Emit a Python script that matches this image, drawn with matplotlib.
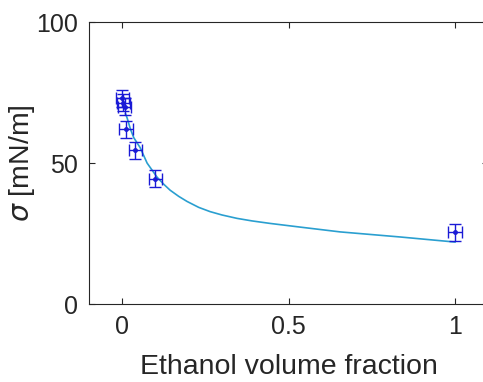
import matplotlib
matplotlib.use("Agg")
import matplotlib.pyplot as plt

# Measured surface tension of ethanol-water mixtures
frac = [0.0, 0.004, 0.008, 0.012, 0.04, 0.10, 1.0]
sigma = [73.0, 71.5, 70.0, 62.0, 54.5, 44.5, 25.5]
frac_err = [0.02, 0.02, 0.02, 0.02, 0.02, 0.02, 0.02]
sigma_err = [3.0, 3.0, 3.0, 3.0, 3.0, 3.0, 3.0]

# Fitted curve
fit_x = [0.010, 0.015, 0.025, 0.035, 0.054, 0.075, 0.105, 0.125, 0.144,
         0.17, 0.195, 0.23, 0.264, 0.30, 0.345, 0.39, 0.445, 0.535,
         0.655, 0.835, 1.000]
fit_y = [67.5, 66.0, 62.0, 59.0, 55.5, 50.0, 45.0, 42.5, 40.4,
         38.2, 36.4, 34.3, 32.8, 31.6, 30.4, 29.5, 28.6, 27.3,
         25.6, 23.8, 22.0]

xticks = [0, 0.5, 1]
yticks = [0, 50, 100]

plt.rcParams['font.family'] = ['Liberation Sans', 'DejaVu Sans']
txt = '#262626'

fig = plt.figure(figsize=(4.83, 3.82), dpi=100)
ax = fig.add_axes([0.184, 0.204, 0.827, 0.738])

ax.plot(fit_x, fit_y, color='#2a9fd0', lw=1.2, zorder=2)
ax.errorbar(frac, sigma, xerr=frac_err, yerr=sigma_err, fmt='.', color='#1a1ad6',
            ms=5, elinewidth=1.0, capsize=4.5, capthick=1.0, zorder=3)

ax.set_xlim(-0.1, 1.1)
ax.set_ylim(0, 100)
ax.set_xticks(xticks)
ax.set_xticklabels(['0', '0.5', '1'])
ax.set_yticks(yticks)
ax.tick_params(direction='in', length=4, width=0.8, labelsize=18, colors=txt,
               top=True, right=True, pad=8)
for s in ax.spines.values():
    s.set_color(txt)
    s.set_linewidth(0.8)

ax.set_xlabel('Ethanol volume fraction', fontsize=20.5, color=txt, labelpad=11)
ax.set_ylabel(r'$\sigma$ [mN/m]', fontsize=20.5, color=txt, labelpad=-1)

fig.savefig('out.png', dpi=100)
